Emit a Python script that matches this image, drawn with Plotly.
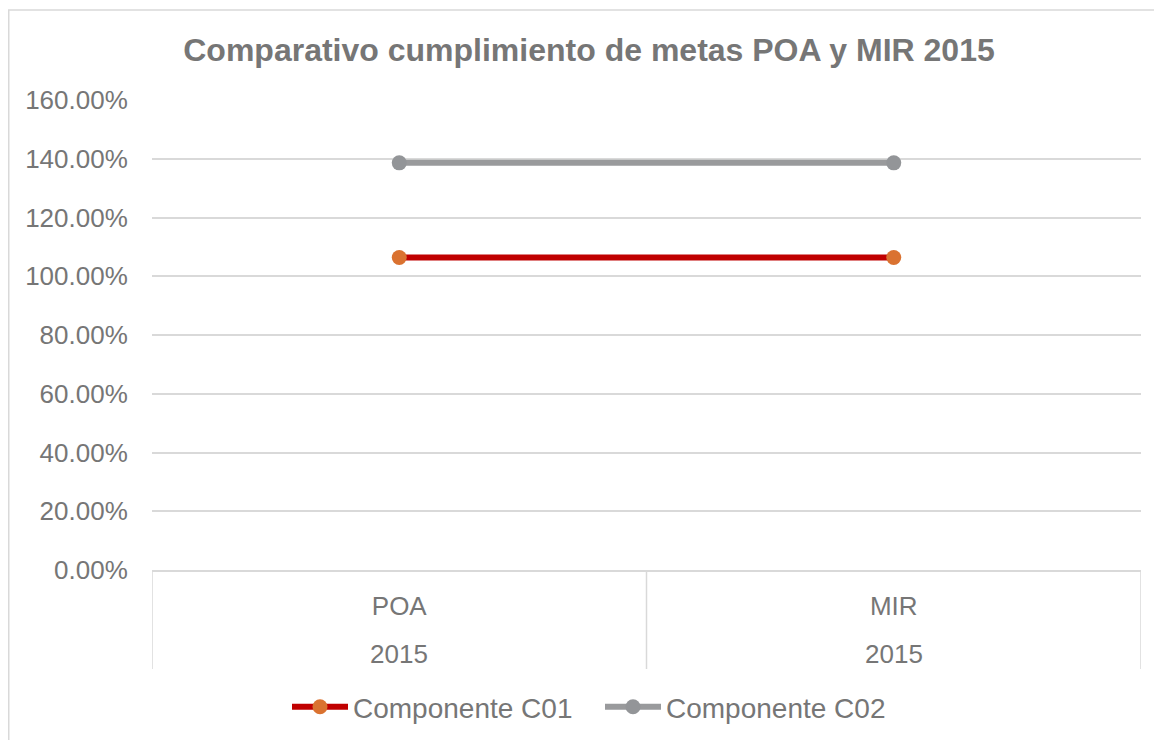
import plotly.graph_objects as go

categories = ["POA", "MIR"]
years = ["2015", "2015"]
c01_values = [1.064, 1.064]
c02_values = [1.386, 1.386]
y_ticks = [0, 0.2, 0.4, 0.6, 0.8, 1.0, 1.2, 1.4, 1.6]
y_ticktext = ["0.00%", "20.00%", "40.00%", "60.00%", "80.00%", "100.00%", "120.00%", "140.00%", "160.00%"]

TEXT = "#767676"
GRID = "#d9d9d9"
FONT = "Liberation Sans, Arial, sans-serif"

# page body has an 8px margin, so layout is expressed in figure coordinates (= screen - 8)
L, T, PW, PH = 144, 92, 989, 470

fig = go.Figure()
fig.add_trace(go.Scatter(
    x=categories, y=c01_values, name="Componente C01", mode="lines+markers",
    line=dict(color="#C00000", width=6),
    marker=dict(color="#DA7230", size=15),
))
fig.add_trace(go.Scatter(
    x=categories, y=c02_values, name="Componente C02", mode="lines+markers",
    line=dict(color="#999A9C", width=6),
    marker=dict(color="#939598", size=15),
))

shapes = []
for xv in [-0.5, 0.5, 1.5]:
    shapes.append(dict(type="line", xref="x", yref="paper", x0=xv, x1=xv, y0=0, y1=-0.2106,
                       line=dict(color=GRID, width=1.5)))
shapes.append(dict(type="rect", xref="paper", yref="paper",
                   x0=(0.75 - L) / PW, x1=1.1, y0=-0.6, y1=(PH + T - 2) / PH,
                   line=dict(color=GRID, width=1.5), fillcolor="rgba(0,0,0,0)", layer="below"))

annotations = []
for i, yr in enumerate(years):
    annotations.append(dict(x=categories[i], y=-0.179, xref="x", yref="paper", text=yr,
                            showarrow=False, font=dict(size=26, color=TEXT, family=FONT),
                            yanchor="middle"))

fig.update_layout(
    width=1162, height=740,
    margin=dict(l=L, r=1162 - L - PW, t=T, b=740 - T - PH),
    paper_bgcolor="white", plot_bgcolor="white",
    font=dict(family=FONT, color=TEXT, size=26),
    title=dict(text="<b>Comparativo cumplimiento de metas POA y MIR 2015</b>",
               x=581 / 1162, xanchor="center", y=1 - 42 / 740, yanchor="middle",
               font=dict(size=32, color=TEXT, family=FONT)),
    xaxis=dict(range=[-0.5, 1.5], showgrid=False, zeroline=False,
               showline=True, linecolor=GRID, linewidth=1.5,
               tickfont=dict(size=26, color=TEXT), ticks="outside", ticklen=12,
               tickcolor="rgba(0,0,0,0)"),
    yaxis=dict(range=[0, 1.6], tickvals=y_ticks, ticktext=y_ticktext,
               showgrid=True, gridcolor=GRID, gridwidth=1.5, zeroline=False,
               tickfont=dict(size=26, color=TEXT), ticks="outside", ticklen=18,
               tickcolor="rgba(0,0,0,0)"),
    legend=dict(orientation="h", x=(279 - L) / PW, xanchor="left", y=-0.2915, yanchor="middle",
                font=dict(size=28, color=TEXT), itemwidth=56, tracegroupgap=0,
                entrywidth=242, entrywidthmode="pixels"),
    shapes=shapes, annotations=annotations,
)

fig.write_html("out.html")
